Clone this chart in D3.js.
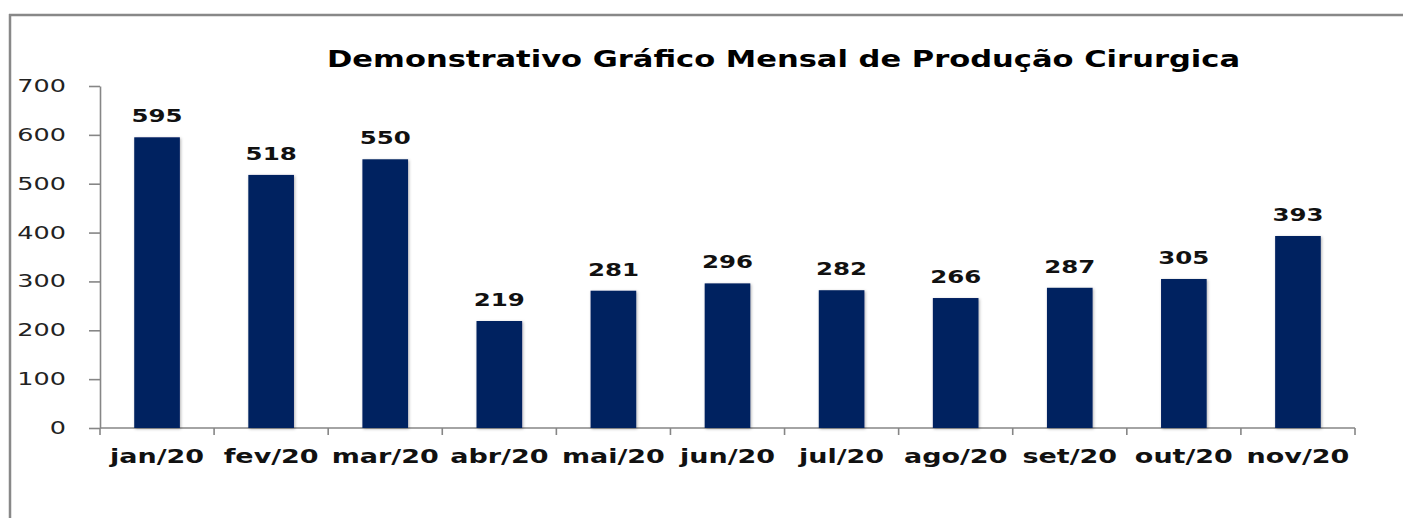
<!DOCTYPE html>
<html>
<head>
<meta charset="utf-8">
<script src="https://cdn.jsdelivr.net/npm/d3@7"></script>
<style>
  html, body { margin: 0; padding: 0; background: #fff; }
  svg { display: block; }
</style>
</head>
<body>
<svg id="chart"></svg>
<script>
// data
const titleText = "Demonstrativo Gráfico Mensal de Produção Cirurgica";
const months = ["jan/20", "fev/20", "mar/20", "abr/20", "mai/20", "jun/20", "jul/20", "ago/20", "set/20", "out/20", "nov/20"];
const production = [595, 518, 550, 219, 281, 296, 282, 266, 287, 305, 393];
const yTicks = [0, 100, 200, 300, 400, 500, 600, 700];

const config = {
	width: 1403,
	height: 518,
	margin: { top: 86, right: 48, bottom: 90, left: 100 },
	barColor: "#002060",
	axisColor: "#868686"
};

const svg = d3.select("#chart")
	.attr("width", config.width)
	.attr("height", config.height);

// drop shadow for bars
const defs = svg.append("defs");
defs.append("filter").attr("id", "shadow")
	.attr("x", "-20%").attr("y", "-20%").attr("width", "140%").attr("height", "140%")
	.append("feDropShadow")
	.attr("dx", 1).attr("dy", 1)
	.attr("stdDeviation", 1.6)
	.attr("flood-color", "#000")
	.attr("flood-opacity", 0.3);

// chart frame (top and left edges only are visible)
svg.append("line")
	.attr("x1", 9).attr("x2", config.width)
	.attr("y1", 15).attr("y2", 15)
	.attr("stroke", "#888").attr("stroke-width", 2.5);
svg.append("line")
	.attr("x1", 10).attr("x2", 10)
	.attr("y1", 14).attr("y2", config.height)
	.attr("stroke", "#888").attr("stroke-width", 2.5);

// scales
const x = d3.scaleBand()
	.domain(months)
	.range([config.margin.left, config.width - config.margin.right])
	.paddingInner(0.6)
	.paddingOuter(0.3);

const xStep = x.step();
const xStart = config.margin.left;

const y = d3.scaleLinear()
	.domain([0, 700])
	.range([config.height - config.margin.bottom, config.margin.top]);

// stretched text helper
function stretchText(g, px, py, sx, text) {
	return g.append("text")
		.attr("transform", `translate(${px},${py}) scale(${sx},1)`)
		.text(text);
}

// title
svg.append("text")
	.attr("x", 327).attr("y", 67)
	.attr("textLength", 913)
	.attr("lengthAdjust", "spacingAndGlyphs")
	.attr("font-family", "DejaVu Sans, sans-serif")
	.attr("font-weight", "bold")
	.attr("font-size", "23px")
	.attr("fill", "#000")
	.text(titleText);

// y axis
const yAxis = svg.append("g")
	.attr("transform", `translate(${config.margin.left},0)`)
	.call(d3.axisLeft(y).tickValues(yTicks).tickSize(11).tickSizeOuter(0).tickFormat(""));
yAxis.selectAll("line, path").attr("stroke", config.axisColor).attr("stroke-width", 1.6);

const yLabels = svg.append("g")
	.attr("font-family", "DejaVu Sans, sans-serif")
	.attr("font-size", "17px")
	.attr("fill", "#222")
	.attr("text-anchor", "end");
yTicks.forEach(t => stretchText(yLabels, 66, y(t) + 6, 1.5, t));

// x axis with ticks between categories
const xBoundaries = d3.range(months.length + 1).map(i => xStart + i * xStep);
const xAxisG = svg.append("g");
xAxisG.append("line")
	.attr("x1", xStart).attr("x2", xBoundaries[xBoundaries.length - 1])
	.attr("y1", y(0)).attr("y2", y(0))
	.attr("stroke", config.axisColor).attr("stroke-width", 1.6);
xAxisG.selectAll(".xtick")
	.data(xBoundaries)
	.join("line")
	.attr("class", "xtick")
	.attr("x1", d => d).attr("x2", d => d)
	.attr("y1", y(0)).attr("y2", y(0) + 7)
	.attr("stroke", config.axisColor).attr("stroke-width", 1.6);

const xLabels = svg.append("g")
	.attr("font-family", "DejaVu Sans, sans-serif")
	.attr("font-weight", "bold")
	.attr("font-size", "19px")
	.attr("fill", "#111")
	.attr("text-anchor", "middle");
months.forEach(m => stretchText(xLabels, x(m) + x.bandwidth() / 2, 463, 1.42, m));

// bars
svg.append("g")
	.selectAll("rect")
	.data(production)
	.join("rect")
	.attr("x", (d, i) => x(months[i]))
	.attr("y", d => y(d))
	.attr("width", x.bandwidth())
	.attr("height", d => y(0) - y(d))
	.attr("fill", config.barColor)
	.attr("filter", "url(#shadow)");

// value labels
const valueLabels = svg.append("g")
	.attr("font-family", "DejaVu Sans, sans-serif")
	.attr("font-weight", "bold")
	.attr("font-size", "18px")
	.attr("fill", "#111")
	.attr("text-anchor", "middle");
production.forEach((v, i) => stretchText(valueLabels, x(months[i]) + x.bandwidth() / 2, y(v) - 15, 1.36, v));
</script>
</body>
</html>
